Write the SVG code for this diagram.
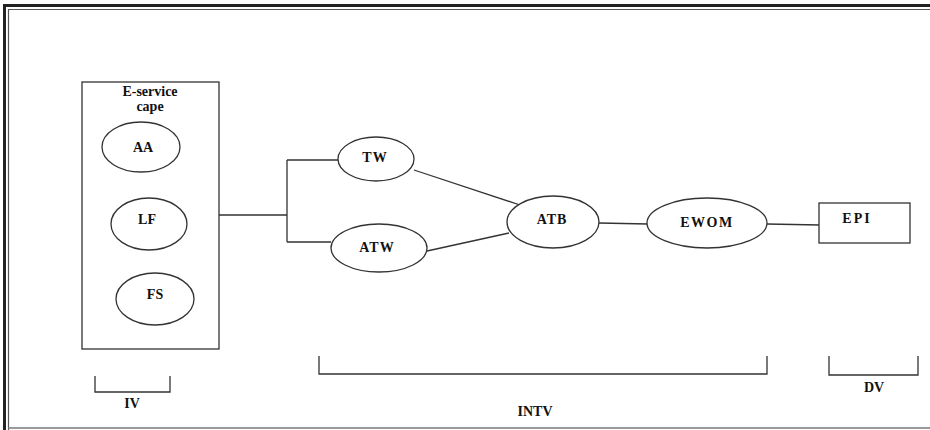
<svg xmlns="http://www.w3.org/2000/svg" width="930" height="430" viewBox="0 0 930 430">
<style>
.s{fill:none;stroke:#333;stroke-width:1.3}
.n{fill:#fff;stroke:#333;stroke-width:1.3}
.t{font-family:"Liberation Serif","Times New Roman",serif;font-weight:bold;font-size:14px;fill:#111;text-anchor:middle}
</style>
<rect width="930" height="430" fill="#fff"/>
<g id="frame">
<path d="M4.5 430 V5.5 H935" fill="none" stroke="#222" stroke-width="3"/>
<path d="M8.5 430 V9.5 H935" fill="none" stroke="#555" stroke-width="1.2"/>
<line x1="8" y1="428" x2="930" y2="428" stroke="#777" stroke-width="1.5"/>
</g>
<g id="connectors">
<path class="s" d="M219 215 H287 M287 160 V242 M287 160 H339 M287 242 H331"/>
<line class="s" x1="414" y1="170" x2="520" y2="205"/>
<line class="s" x1="427" y1="251" x2="509" y2="233"/>
<line class="s" x1="599" y1="223" x2="648" y2="224"/>
<line class="s" x1="767" y1="224" x2="820" y2="225"/>
</g>
<g id="eservicecape">
<rect class="n" x="82" y="82" width="137" height="267"/>
<text class="t" x="150" y="96">E-service</text>
<text class="t" x="150" y="111">cape</text>
</g>
<g id="AA"><ellipse class="n" cx="141" cy="147" rx="39" ry="25"/><text class="t" x="143" y="152">AA</text></g>
<g id="LF"><ellipse class="n" cx="149" cy="224" rx="38" ry="26"/><text class="t" x="147" y="224">LF</text></g>
<g id="FS"><ellipse class="n" cx="155" cy="299" rx="39" ry="26"/><text class="t" x="155" y="299">FS</text></g>
<g id="TW"><ellipse class="n" cx="376" cy="159" rx="38" ry="22"/><text class="t" x="375" y="162" letter-spacing="1">TW</text></g>
<g id="ATW"><ellipse class="n" cx="379" cy="248" rx="48" ry="24"/><text class="t" x="377" y="252" letter-spacing="1">ATW</text></g>
<g id="ATB"><ellipse class="n" cx="553" cy="222" rx="46" ry="26"/><text class="t" x="552" y="224" letter-spacing="1">ATB</text></g>
<g id="EWOM"><ellipse class="n" cx="707" cy="223" rx="60" ry="25"/><text class="t" x="707" y="227" letter-spacing="1.5">EWOM</text></g>
<g id="EPI"><rect class="n" x="819" y="203" width="91" height="40"/><text class="t" x="857" y="223" letter-spacing="2">EPI</text></g>
<g id="IV"><path class="s" d="M95 376 V392 H170 V376"/><text class="t" x="132" y="408">IV</text></g>
<g id="INTV"><path class="s" d="M319 356 V374 H767 V356"/><text class="t" x="535" y="416">INTV</text></g>
<g id="DV"><path class="s" d="M829 356 V375 H918 V356"/><text class="t" x="874" y="392">DV</text></g>
</svg>
